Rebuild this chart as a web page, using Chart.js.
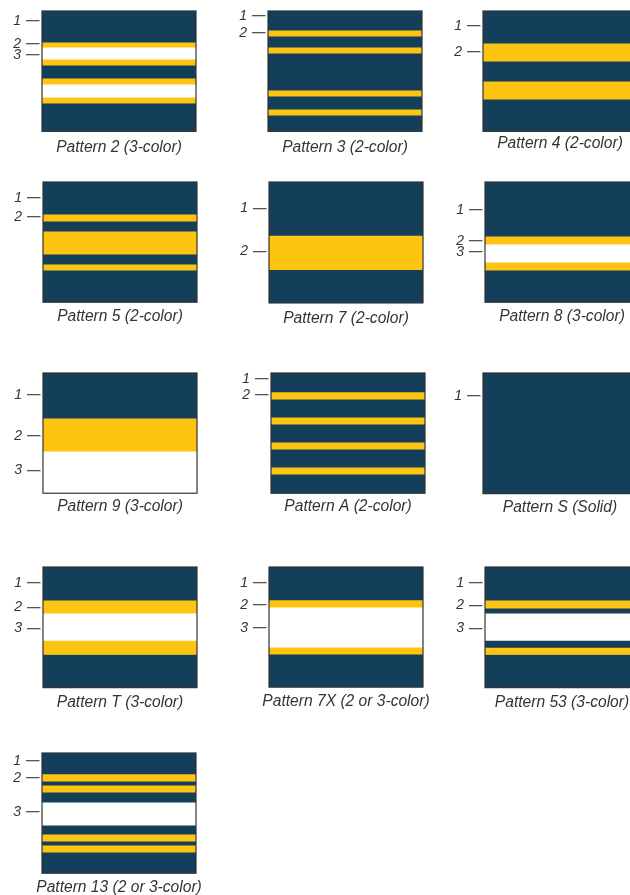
<!DOCTYPE html>
<html>
<head>
<meta charset="utf-8">
<script src="https://cdn.jsdelivr.net/npm/chart.js@4/dist/chart.umd.min.js"></script>
<style>
html,body{margin:0;padding:0;background:#fff;overflow:hidden;width:630px;height:895px;}
.panel{position:absolute;}
</style>
</head>
<body>
<script>

/* -------- DATA -------- */

// pattern captions
const patternNames = [
"Pattern 2 (3-color)", "Pattern 3 (2-color)", "Pattern 4 (2-color)",
"Pattern 5 (2-color)", "Pattern 7 (2-color)", "Pattern 8 (3-color)",
"Pattern 9 (3-color)", "Pattern A (2-color)", "Pattern S (Solid)",
"Pattern T (3-color)", "Pattern 7X (2 or 3-color)", "Pattern 53 (3-color)",
"Pattern 13 (2 or 3-color)"
];

// stripe colours from top to bottom (N = navy, Y = yellow, W = white)
const stripeKinds = [
"NYWYNYWYN", "NYNYNYNYN", "NYNYN",
"NYNYNYN", "NYN", "NYWYN",
"NYW", "NYNYNYNYN", "N",
"NYWYN", "NYWYN", "NYNWNYN",
"NYNYNWNYNYN"
];

// stripe heights, top to bottom (box = 120)
const stripeHeights = [
[31, 5, 12, 6, 13, 6, 13, 6, 28],
[19, 6, 11, 6, 37, 6, 13, 6, 16],
[32, 18, 20, 18, 32],
[32, 7, 10, 23, 10, 6, 32],
[53, 34, 33],
[54, 8, 18, 8, 32],
[45, 33, 42],
[19, 7, 18, 7, 18, 7, 18, 7, 19],
[120],
[33, 13, 27, 14, 33],
[33, 7, 40, 7, 33],
[33, 8, 5, 27, 7, 7, 33],
[21, 7, 4, 7, 10, 23, 9, 7, 4, 7, 21]
];

// colour callouts on the left side
const tickLabels = [
["1","2","3"], ["1","2"], ["1","2"],
["1","2"], ["1","2"], ["1","2","3"],
["1","2","3"], ["1","2"], ["1"],
["1","2","3"], ["1","2","3"], ["1","2","3"],
["1","2","3"]
];

const tickValues = [
[10, 33, 44], [5, 22], [15, 41],
[16, 35], [26, 69], [28, 59, 70],
[22, 63, 97], [6, 22], [23],
[16, 40, 61], [16, 38, 61], [16, 38, 61],
[8, 25, 59]
];


/* -------- LAYOUT -------- */

const COLORS = {N: "#143f5b", Y: "#fdc412", W: "#ffffff"};

const AXW = 42;
const BOX_W = 153.5;
const BOX_H = 120.5;

// [box left, box top, caption gap]
const panelBoxes = [
[41.7, 11, 16.3], [268.3, 11, 16.3], [482.7, 11, 12.3],
[43.3, 181.7, 14.4], [268.7, 181.7, 15.7], [485.3, 181.7, 14.4],
[43.3, 372.7, 13.4], [271, 372.7, 13.4], [483, 372.7, 14],
[43.3, 566.7, 15], [268.7, 566.7, 14.5], [485.3, 566.7, 15],
[41.7, 752.7, 14.4]
];

const frame = {
id: "frame",
afterDatasetsDraw(chart){
const a = chart.chartArea;
const c = chart.ctx;
c.save();
c.strokeStyle = "#333";
c.lineWidth = 1.2;
c.strokeRect(a.left, a.top, a.right - a.left, a.bottom - a.top);
c.restore();
}
};

const FONT = "'Liberation Sans', Arial, sans-serif";


/* -------- CHARTS -------- */

patternNames.forEach((name, i) => {

const [left, top, gap] = panelBoxes[i];

const capFont = 15.6;
const capLH = capFont * 1.2;
const capPad = gap - capLH / 2;

const cv = document.createElement("canvas");
cv.className = "panel";
cv.style.left = (left - AXW) + "px";
cv.style.top = (top - 1) + "px";
cv.width = Math.round(AXW + BOX_W + AXW);
cv.height = Math.round(1 + BOX_H + capPad + capLH + 2);
cv.style.width = cv.width + "px";
cv.style.height = cv.height + "px";
document.body.appendChild(cv);

const kinds = stripeKinds[i].split("");

const datasets = stripeHeights[i].map((h, k) => ({
data: [h],
backgroundColor: COLORS[kinds[k]],
borderWidth: 0,
barPercentage: 1,
categoryPercentage: 1,
stack: "s"
}));

const tv = tickValues[i];
const tl = tickLabels[i];

new Chart(cv, {
type: "bar",
data: {labels: [""], datasets: datasets},
options: {
responsive: false,
animation: false,
events: [],
layout: {padding: {top: 1, right: 0, left: 0, bottom: 0}},
plugins: {
legend: {display: false},
tooltip: {enabled: false},
title: {
display: true,
position: "bottom",
text: name,
color: "#333",
padding: {top: capPad, bottom: 2},
font: {family: FONT, size: capFont, style: "italic", weight: "normal", lineHeight: 1.2}
}
},
scales: {
x: {
stacked: true,
display: false
},
y: {
stacked: true,
reverse: true,
min: 0,
max: 120,
afterFit: s => { s.width = AXW; s.paddingTop = 0; s.paddingBottom = 0; },
afterBuildTicks: s => { s.ticks = tv.map(v => ({value: v})); },
border: {display: false},
grid: {
drawOnChartArea: false,
tickLength: 16,
color: "#555",
lineWidth: 1.3,
tickBorderDash: [13.5, 10],
tickBorderDashOffset: 0
},
ticks: {
autoSkip: false,
padding: 5,
color: "#333",
font: {family: FONT, size: 14, style: "italic"},
callback: (v, idx) => tl[idx]
}
},
y2: {
position: "right",
display: true,
grid: {display: false},
border: {display: false},
ticks: {display: false},
afterFit: s => { s.width = AXW; s.paddingTop = 0; s.paddingBottom = 0; }
}
}
},
plugins: [frame]
});

});

</script>
</body>
</html>
